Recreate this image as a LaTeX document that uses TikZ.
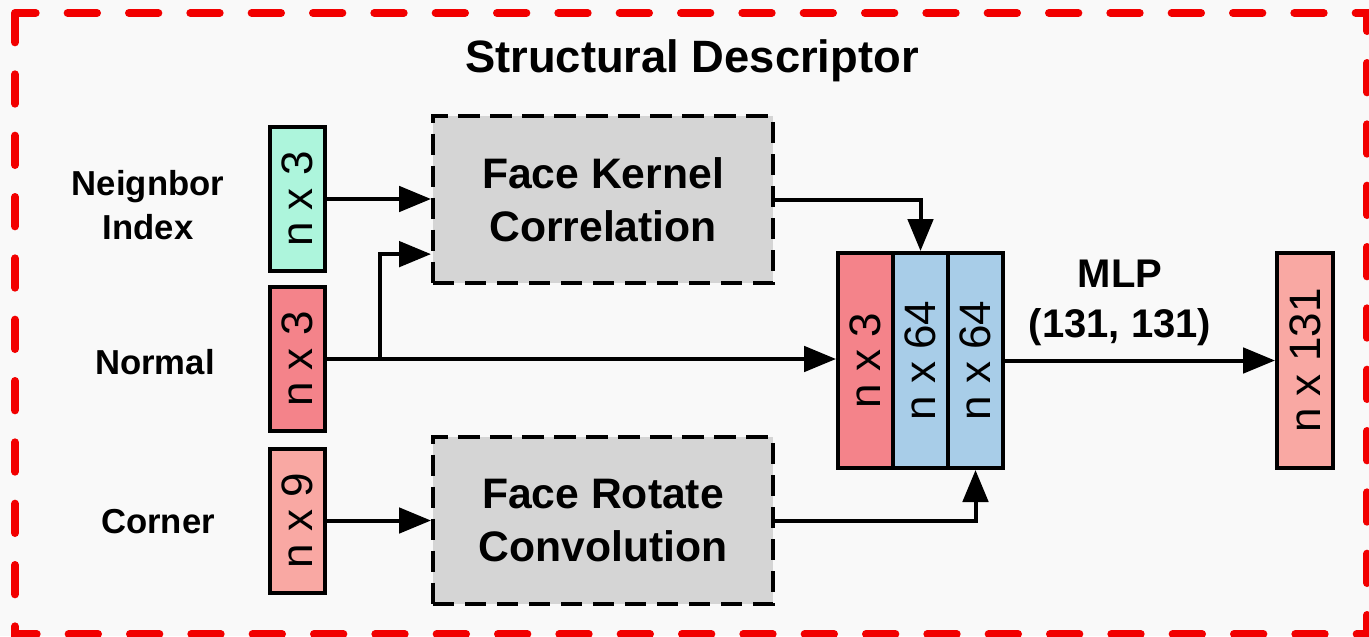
\documentclass[tikz,border=0pt]{standalone}
\usepackage{fontspec}
\setmainfont{Liberation Sans}
\usepackage{graphicx}
\usetikzlibrary{arrows.meta,calc}

\definecolor{nbrgreen}{HTML}{ADF5DC}
\definecolor{nrmred}{HTML}{F4838A}
\definecolor{crnsalmon}{HTML}{F9A8A3}
\definecolor{featblue}{HTML}{A8CDE8}
\definecolor{opgray}{HTML}{D5D5D5}
\definecolor{bggray}{HTML}{F9F9F9}
\definecolor{borderred}{HTML}{F20000}

\tikzset{every picture/.style={line width=3pt}}
\tikzset{
  redborder/.style={draw=borderred, line width=6pt, line cap=round, dash pattern=on 22pt off 24pt},
  tensor/.style={draw, line width=3pt, inner sep=0pt, minimum width=41.25pt, minimum height=108pt, font=\fontsize{33}{38}\selectfont},
  catcol/.style={tensor, minimum height=161.25pt},
  opbox/.style={draw, fill=opgray, line width=3pt, dash pattern=on 16pt off 8pt, minimum width=255pt, minimum height=125pt, align=center, font=\fontsize{32}{40}\selectfont\bfseries},
  inlabel/.style={align=center, font=\fontsize{26}{33}\selectfont\bfseries},
  arr/.style={-{Triangle[length=24pt,width=19pt]}, line width=3pt},
}

\begin{document}
\begin{tikzpicture}[x=0.75pt,y=0.75pt,yscale=-1,xscale=1]
\fill[bggray] (0,0) rectangle (1369,636);
\useasboundingbox (0,0) rectangle (1369,636);

%Outer frame
\draw[redborder] (15,13) rectangle (1367,634);

% Title
\node[anchor=base, font=\fontsize{34}{40}\selectfont\bfseries] (ttl) at (692,72) {Structural Descriptor};

% Input labels
\node[inlabel] (nbrlbl) at (148,205) {Neignbor\\Index};
\node[inlabel] (nrmlbl) at (155,362) {Normal};
\node[inlabel] (crnlbl) at (158,522) {Corner};

% Input tensors
\node[tensor, fill=nbrgreen] (nbr) at (297.5,199) {\rotatebox{90}{n x 3}};
\node[tensor, fill=nrmred] (nrm) at (297.5,359) {\rotatebox{90}{n x 3}};
\node[tensor, fill=crnsalmon] (crn) at (297.5,520.5) {\rotatebox{90}{n x 9}};

% Operations
\node[opbox] (fkc) at (603,199.5) {Face Kernel\\Correlation};
\node[opbox] (frc) at (603,520.5) {Face Rotate\\Convolution};

% Concatenated features
\node[catcol, fill=nrmred] (cat1) at (865.5,360.5) {\rotatebox{90}{n x 3}};
\node[catcol, fill=featblue] (cat2) at (920.5,360.5) {\rotatebox{90}{n x 64}};
\node[catcol, fill=featblue] (cat3) at (975.5,360.5) {\rotatebox{90}{n x 64}};

% Output
\node[catcol, fill=crnsalmon, minimum width=42pt] (out) at (1305,360.5) {\rotatebox{90}{n x 131}};
\node[align=center, font=\fontsize{30}{37.5}\selectfont\bfseries] (mlp) at (1120,303) {MLP\\(131, 131)};

% Connectors
\coordinate (split) at ($(nrm.east)+(53,0)$);
\coordinate (fkcin) at ($(fkc.south west)!0.18!(fkc.north west)$);
\draw[arr] (nbr.east) -- (nbr.east -| fkc.west);
\draw[arr] (nrm.east) -- (nrm.east -| cat1.west);
\draw[arr] (split) |- (fkcin);
\draw[arr] (crn.east) -- (crn.east -| frc.west);
\draw[arr] (fkc.east) -| (cat2.north);
\draw[arr] (frc.east) -| (cat3.south);
\draw[arr] (cat3.east) -- (cat3.east -| out.west);

\end{tikzpicture}
\end{document}
